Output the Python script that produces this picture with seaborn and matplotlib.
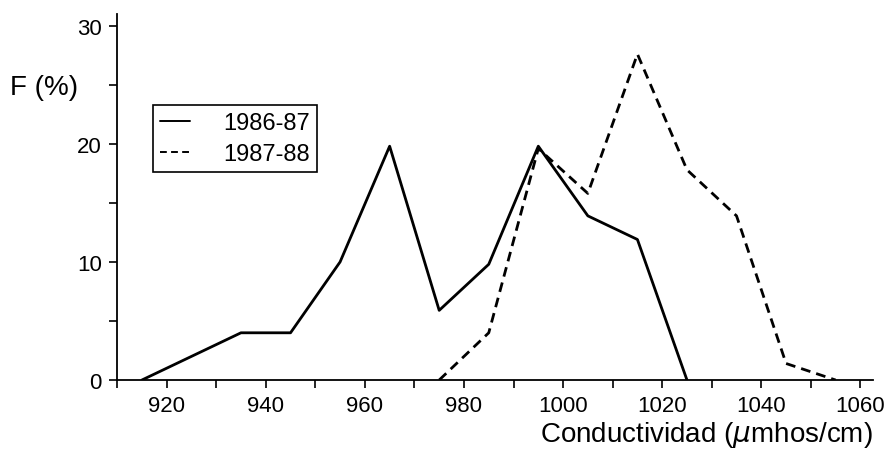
import numpy as np
import pandas as pd
import matplotlib
matplotlib.use('Agg')
import matplotlib.pyplot as plt
import seaborn as sns
from matplotlib.ticker import MultipleLocator

# Data
cond_8687 = [915, 925, 935, 945, 955, 965, 975, 985, 995, 1005, 1015, 1025]
freq_8687 = [0, 2, 4, 4, 10, 19.8, 5.9, 9.8, 19.8, 13.9, 11.9, 0]
cond_8788 = [975, 985, 995, 1005, 1015, 1025, 1035, 1045, 1055]
freq_8788 = [0, 4, 19.6, 15.8, 27.6, 17.8, 13.9, 1.4, 0]
labels = ['1986-87', '1987-88']

df = pd.concat([
    pd.DataFrame({'cond': cond_8687, 'freq': freq_8687, 'campaña': labels[0]}),
    pd.DataFrame({'cond': cond_8788, 'freq': freq_8788, 'campaña': labels[1]}),
])

sns.set_style('ticks')
plt.rcParams['font.family'] = ['Liberation Sans', 'DejaVu Sans']
plt.rcParams['text.color'] = 'black'
plt.rcParams['axes.labelcolor'] = 'black'

fig = plt.figure(figsize=(8.87, 4.52), dpi=100)
ax = fig.add_axes([0.132, 0.157, 0.852, 0.81])

sns.lineplot(data=df, x='cond', y='freq', style='campaña', hue='campaña',
             palette=['black', 'black'], dashes=[(None, None), (3.5, 2.2)],
             linewidth=2.0, ax=ax, sort=False)

ax.set_xlim(910, 1062.5)
ax.set_ylim(0, 31)
ax.xaxis.set_major_locator(MultipleLocator(20))
ax.xaxis.set_minor_locator(MultipleLocator(10))
ax.yaxis.set_major_locator(MultipleLocator(10))
ax.yaxis.set_minor_locator(MultipleLocator(5))
ax.tick_params(which='both', direction='out', colors='black', labelsize=16,
               length=6, width=1.2, pad=5)
sns.despine(ax=ax)
for s in ['left', 'bottom']:
    ax.spines[s].set_linewidth(1.3)
    ax.spines[s].set_color('black')

ax.set_xlabel('Conductividad ($\\mu$mhos/cm)', fontsize=20, color='black')
ax.xaxis.set_label_coords(1.0, -0.148)
ax.xaxis.label.set_horizontalalignment('right')
ax.xaxis.label.set_verticalalignment('center')
ax.set_ylabel('')
fig.text(0.011, 0.805, 'F (%)', fontsize=20, va='center', ha='left', color='black')

leg = ax.legend(title=None, loc='upper left', bbox_to_anchor=(0.047, 0.752),
                frameon=True, fancybox=False, edgecolor='black', framealpha=1,
                fontsize=17, handlelength=1.3, handletextpad=1.4, borderpad=0.3,
                labelspacing=0.4, borderaxespad=0)
leg.get_frame().set_linewidth(1.2)
for t in leg.get_texts():
    t.set_color('black')
for line in leg.get_lines():
    line.set_linewidth(1.4)

fig.savefig('out.png', dpi=100)
